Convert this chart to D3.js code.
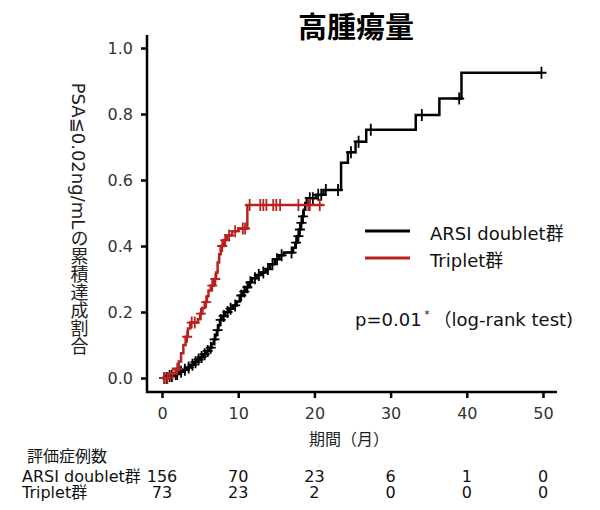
<!DOCTYPE html>
<html><head><meta charset="utf-8">
<script src="https://cdn.jsdelivr.net/npm/d3@7"></script>
<style>
body{margin:0;background:#fff;}
text{font-family:"DejaVu Sans","Noto Sans CJK JP",sans-serif;}
</style></head>
<body><svg id="c" width="600" height="510"></svg>
<script>
// ---- data ----
const title = "高腫瘍量";
const yLabel = "PSA≦0.02ng/mLの累積達成割合";
const xLabel = "期間（月）";
const seriesNames = ["ARSI doublet群", "Triplet群"];
const xTicks = [0, 10, 20, 30, 40, 50];
const yTicks = [0.0, 0.2, 0.4, 0.6, 0.8, 1.0];
// step function: [time, cumulative value]
const arsiSteps = [[0,0],[0.8,0.006],[1.5,0.012],[2.2,0.019],[2.8,0.025],[3.3,0.032],[3.8,0.04],[4.2,0.048],[4.6,0.056],[5.0,0.064],[5.4,0.072],[5.8,0.082],[6.2,0.092],[6.5,0.104],[6.8,0.117],[7.0,0.13],[7.2,0.145],[7.4,0.16],[7.6,0.176],[7.9,0.188],[8.3,0.2],[8.8,0.21],[9.3,0.22],[9.8,0.232],[10.2,0.25],[10.6,0.262],[11.0,0.275],[11.4,0.29],[11.8,0.302],[12.4,0.312],[13.0,0.32],[13.6,0.33],[14.2,0.345],[14.8,0.36],[15.4,0.372],[16.0,0.38],[17.2,0.395],[17.5,0.41],[17.8,0.43],[18.0,0.45],[18.2,0.47],[18.4,0.49],[18.6,0.51],[18.8,0.53],[19.0,0.545],[20.2,0.555],[21.2,0.57],[23.5,0.652],[24.4,0.684],[25.4,0.716],[26.8,0.752],[33.3,0.797],[36.4,0.847],[39.3,0.925],[49.8,0.925]];
const arsiCensor = [0.3,0.6,1.0,1.3,1.8,2.0,2.5,3.0,3.5,4.0,4.4,4.8,5.2,5.6,6.0,6.4,6.9,7.3,7.7,8.1,8.6,9.0,9.6,10.4,10.8,11.2,11.6,12.2,12.7,13.3,13.9,14.5,15.1,15.7,17.0,17.6,17.9,18.1,18.3,18.5,19.4,19.8,20.5,20.9,21.5,23.1,24.8,25.8,27.4,34.1,39.0,49.8];
const tripSteps = [[0,0],[1.0,0.014],[1.8,0.028],[2.2,0.05],[2.5,0.075],[2.8,0.1],[3.1,0.125],[3.4,0.15],[3.7,0.168],[4.7,0.178],[5.0,0.195],[5.3,0.212],[5.6,0.23],[5.9,0.248],[6.1,0.265],[6.4,0.28],[6.8,0.3],[7.1,0.32],[7.3,0.35],[7.5,0.375],[7.7,0.4],[8.1,0.418],[8.5,0.432],[9.2,0.445],[10.0,0.453],[11.2,0.524],[21.2,0.524]];
const tripCensor = [0.3,0.7,1.4,2.0,3.3,3.9,4.3,5.1,5.8,6.6,7.0,7.9,8.3,8.8,9.6,10.6,10.9,11.5,12.9,13.3,13.7,14.6,15.0,15.5,17.9,19.2,19.4,20.7];
const riskLabel = "評価症例数";
const riskArsi = [156, 70, 23, 6, 1, 0];
const riskTrip = [73, 23, 2, 0, 0, 0];
const pText = "p=0.01";
const pTail = "（log-rank test)";
const colors = ["#000000", "#b8211f"];

// ---- chart ----
const svg = d3.select("#c");
const x = d3.scaleLinear().domain([0, 50]).range([162, 543]);
const y = d3.scaleLinear().domain([0, 1]).range([378, 48]);

svg.append("text").attr("x", 356).attr("y", 38).attr("text-anchor", "middle")
  .attr("font-size", 29).attr("font-weight", "bold")
  .style("font-family", '"Noto Sans CJK JP",sans-serif').text(title);

// axes
const gx = svg.append("g").attr("transform", "translate(0,392)")
  .call(d3.axisBottom(x).tickValues(xTicks).tickSize(6).tickPadding(10).tickFormat(d3.format("d")));
const gy = svg.append("g").attr("transform", "translate(147,0)")
  .call(d3.axisLeft(y).tickValues(yTicks).tickSize(6).tickPadding(8).tickFormat(d3.format(".1f")));
[gx, gy].forEach(g => {
  g.select(".domain").remove();
  g.selectAll(".tick line").attr("stroke", "#000").attr("stroke-width", 2.5);
  g.selectAll(".tick text").attr("font-size", 16).attr("fill", "#333")
    .style("font-family", '"DejaVu Sans",sans-serif');
});
svg.append("path").attr("d", "M147,35V392H557").attr("fill", "none")
  .attr("stroke", "#000").attr("stroke-width", 2.5);

// y label (vertical writing)
svg.append("text").attr("x", 78).attr("y", 219).attr("text-anchor", "middle")
  .attr("font-size", 18).attr("fill", "#222")
  .style("writing-mode", "vertical-rl").style("text-orientation", "mixed")
  .text(yLabel);

svg.append("text").attr("x", 349).attr("y", 445).attr("text-anchor", "middle")
  .attr("font-size", 16).attr("fill", "#222").text(xLabel);

// curves
const line = d3.line().x(d => x(d[0])).y(d => y(d[1])).curve(d3.curveStepAfter);
function valAt(steps, t) {
  let v = 0;
  for (const s of steps) { if (s[0] <= t) v = s[1]; }
  return v;
}
[[arsiSteps, arsiCensor, colors[0]], [tripSteps, tripCensor, colors[1]]].forEach(([st, cen, col]) => {
  svg.append("path").attr("d", line(st)).attr("fill", "none")
    .attr("stroke", col).attr("stroke-width", 2.5);
  svg.append("g").selectAll("path").data(cen).join("path")
    .attr("d", t => { const cx = x(t), cy = y(valAt(st, t)); return `M${cx - 5},${cy}H${cx + 5}M${cx},${cy - 6}V${cy + 6}`; })
    .attr("stroke", col).attr("stroke-width", 1.8).attr("fill", "none");
});

// legend
seriesNames.forEach((n, i) => {
  const ly = 231 + i * 27;
  svg.append("line").attr("x1", 365).attr("x2", 410).attr("y1", ly).attr("y2", ly)
    .attr("stroke", colors[i]).attr("stroke-width", 3);
  svg.append("text").attr("x", 430).attr("y", ly + 9).attr("font-size", 18)
    .attr("fill", "#111").text(n);
});
const pt = svg.append("text").attr("x", 355).attr("y", 326).attr("font-size", 18).attr("fill", "#111");
pt.append("tspan").text(pText);
pt.append("tspan").attr("font-size", 10).attr("dy", -8).attr("dx", 3).text("*");
pt.append("tspan").attr("dy", 8).attr("dx", 4).text(pTail);

// risk table
svg.append("text").attr("x", 27).attr("y", 462).attr("font-size", 16).attr("fill", "#111").text(riskLabel);
[[seriesNames[0], riskArsi, 482], [seriesNames[1], riskTrip, 498]].forEach(([n, vals, ry]) => {
  svg.append("text").attr("x", 22).attr("y", ry).attr("font-size", 16).attr("fill", "#111").text(n);
  svg.append("g").selectAll("text").data(vals).join("text")
    .attr("x", (d, i) => x(xTicks[i])).attr("y", ry).attr("text-anchor", "middle")
    .attr("font-size", 16).attr("fill", "#111").text(d => d);
});
</script></body></html>
